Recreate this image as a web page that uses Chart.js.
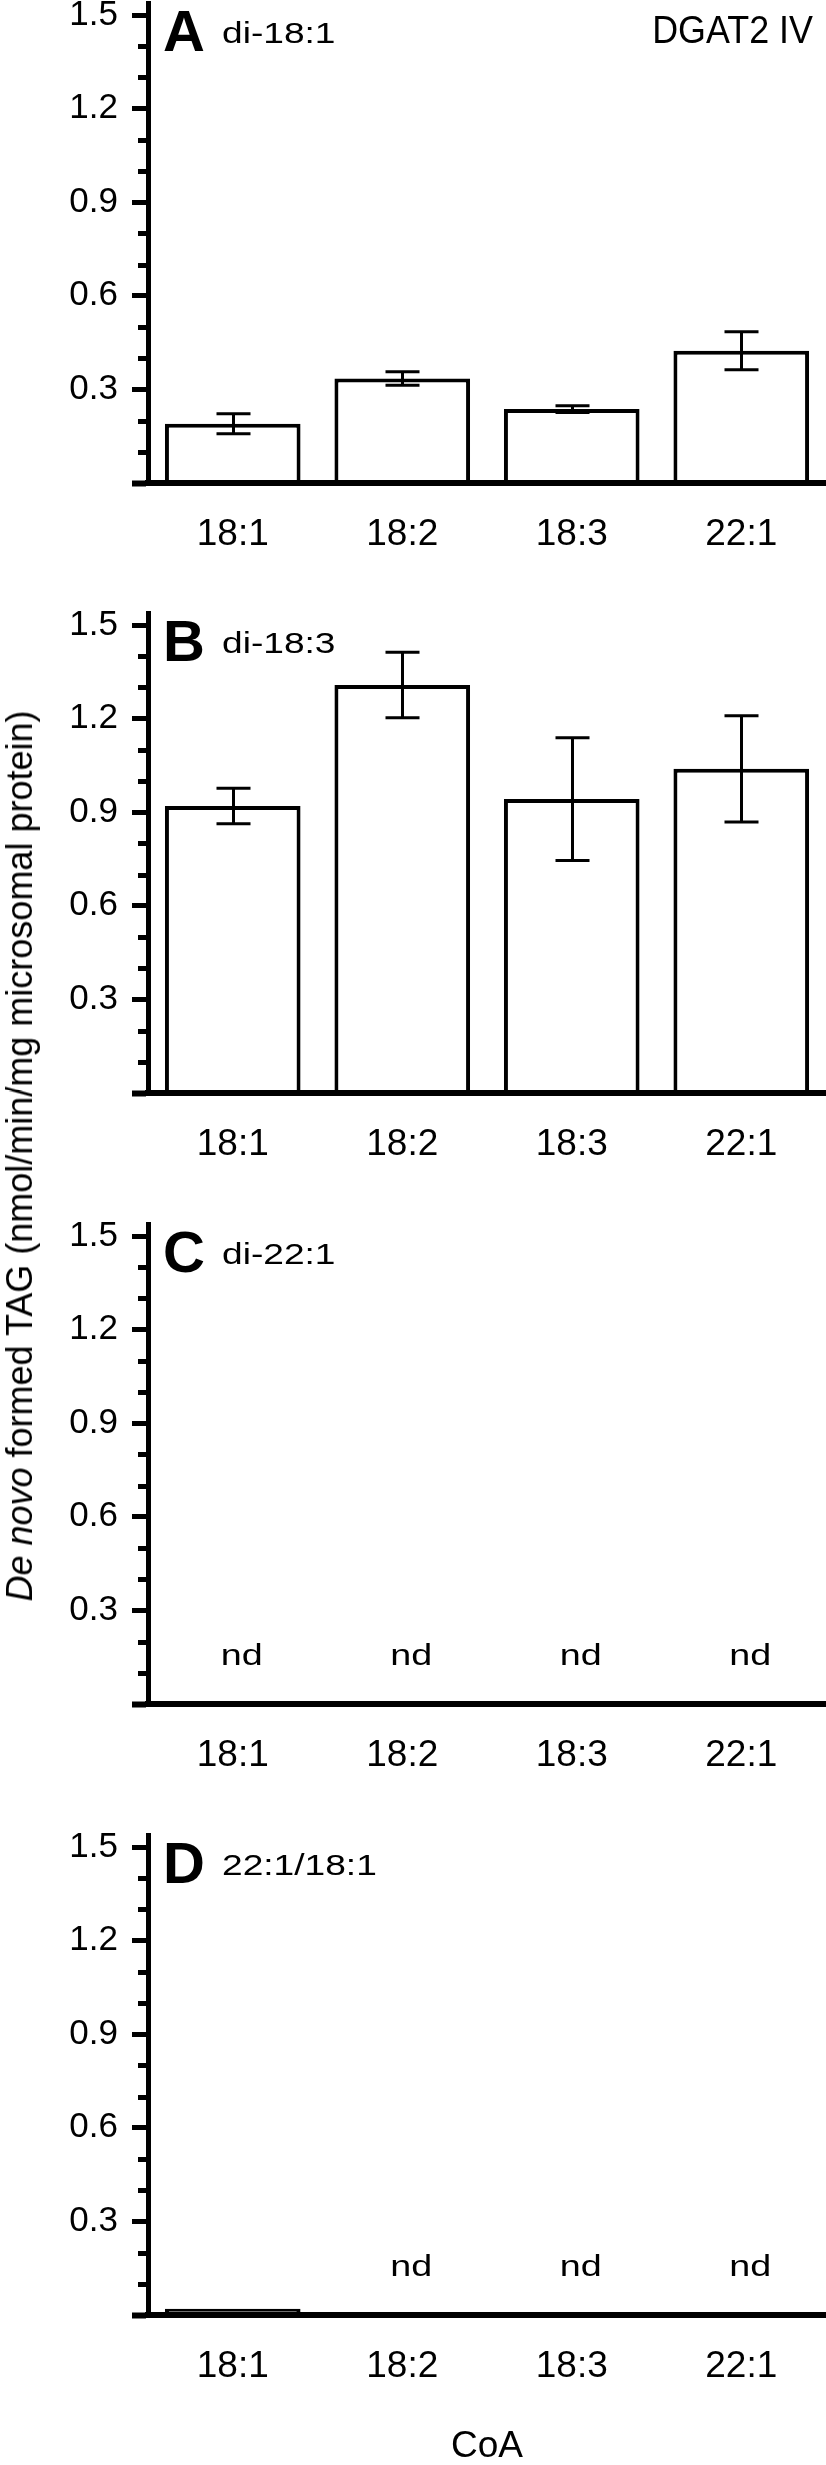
<!DOCTYPE html>
<html>
<head>
<meta charset="utf-8">
<script src="https://cdn.jsdelivr.net/npm/chart.js@4.4.1/dist/chart.umd.min.js"></script>
<style>
  html, body { margin: 0; padding: 0; background: #fff; }
  body { width: 826px; height: 2465px; position: relative; overflow: hidden; }
  canvas { position: absolute; left: 0; }
  #ytitle {
    position: absolute; left: 20px; top: 1156px;
    transform: translate(-50%, -50%) rotate(-90deg);
    white-space: nowrap; font-family: "Liberation Sans", Arial, sans-serif;
    font-size: 36px; line-height: 36px; color: #000;
  }
</style>
</head>
<body>
<canvas id="panelA" width="826" height="610" style="top:1px"></canvas>
<canvas id="panelB" width="826" height="610" style="top:611px"></canvas>
<canvas id="panelC" width="826" height="610" style="top:1222px"></canvas>
<canvas id="panelD" width="826" height="632" style="top:1833px"></canvas>
<div id="ytitle"><i>De novo</i> formed TAG (nmol/min/mg microsomal protein)</div>
<script>
// acyl-CoA added
const categories = ["18:1", "18:2", "18:3", "22:1"];

// A: di-18:1
const diOleoyl = [0.19, 0.335, 0.237, 0.424];
const diOleoylErr = [0.032, 0.022, 0.011, 0.061];
// B: di-18:3
const diLinolenoyl = [0.92, 1.308, 0.942, 1.039];
const diLinolenoylErr = [0.057, 0.105, 0.197, 0.17];
// C: di-22:1 (nothing detected)
const diErucoyl = [null, null, null, null];
const diErucoylNd = [true, true, true, true];
// D: 22:1/18:1
const erucoylOleoyl = [0.02, null, null, null];
const erucoylOleoylNd = [false, true, true, true];

const yTicks = [0, 0.3, 0.6, 0.9, 1.2, 1.5];
const yTickLabels = ["", "0.3", "0.6", "0.9", "1.2", "1.5"];
const yMinorTicks = [0.1, 0.2, 0.4, 0.5, 0.7, 0.8, 1.0, 1.1, 1.3, 1.4];
const yMax = 1.545;
const ndLevel = 0.125;

const FONT = "'Liberation Sans', Arial, sans-serif";
Chart.defaults.font.family = FONT;
Chart.defaults.color = "#000";

const panelExtras = {
  id: "panelExtras",
  afterDraw(chart, args, opts) {
    const ctx = chart.ctx;
    const area = chart.chartArea;
    const xs = chart.scales.x;
    const ys = chart.scales.y;
    const meta = chart.getDatasetMeta(0);
    const values = chart.data.datasets[0].data;
    ctx.save();
    ctx.fillStyle = "#000";
    ctx.strokeStyle = "#000";

    // minor ticks
    ctx.lineWidth = 5;
    ctx.beginPath();
    yMinorTicks.forEach((v) => {
      const py = Math.round(ys.getPixelForValue(v)) + 0.5;
      ctx.moveTo(ys.right - 10, py);
      ctx.lineTo(ys.right, py);
    });
    ctx.stroke();

    // error bars
    ctx.lineWidth = 3;
    (opts.errors || []).forEach((e, i) => {
      const v = values[i];
      if (e == null || v == null) return;
      const cx = Math.round(meta.data[i].x) + 0.5;
      const yt = ys.getPixelForValue(v + e);
      const yb = ys.getPixelForValue(v - e);
      ctx.beginPath();
      ctx.moveTo(cx, yt);
      ctx.lineTo(cx, yb);
      ctx.moveTo(cx - 17, yt);
      ctx.lineTo(cx + 17, yt);
      ctx.moveTo(cx - 17, yb);
      ctx.lineTo(cx + 17, yb);
      ctx.stroke();
    });

    // nd labels
    ctx.font = "29px " + FONT;
    ctx.textAlign = "center";
    ctx.textBaseline = "alphabetic";
    (opts.nd || []).forEach((flag, i) => {
      if (!flag) return;
      ctx.save();
      ctx.translate(xs.getPixelForValue(i) + 9, ys.getPixelForValue(ndLevel));
      ctx.scale(1.3, 1);
      ctx.fillText("nd", 0, 0);
      ctx.restore();
    });

    // panel letter and subtitle
    ctx.textAlign = "left";
    ctx.font = "bold 58px " + FONT;
    ctx.fillText(opts.letter, area.left + 15, area.top + 50);
    ctx.save();
    ctx.translate(area.left + 74, area.top + 42);
    ctx.scale(1.28, 1);
    ctx.font = "29px " + FONT;
    ctx.fillText(opts.subtitle, 0, 0);
    ctx.restore();

    if (opts.note) {
      ctx.save();
      ctx.translate(area.right - 13, area.top + 42);
      ctx.scale(0.92, 1);
      ctx.textAlign = "right";
      ctx.font = "39px " + FONT;
      ctx.fillText(opts.note, 0, 0);
      ctx.restore();
    }
    ctx.restore();
  }
};

function makePanel(id, values, extras, xAxisHeight, showTitle) {
  const ctx = document.getElementById(id).getContext("2d");
  return new Chart(ctx, {
    type: "bar",
    data: {
      labels: categories,
      datasets: [
        {
          data: values,
          backgroundColor: "#fff",
          borderColor: "#000",
          borderWidth: 4,
          borderSkipped: "bottom",
          barPercentage: 0.8,
          categoryPercentage: 1.0,
        },
      ],
    },
    options: {
      responsive: false,
      animation: false,
      layout: { padding: 0 },
      plugins: {
        legend: { display: false },
        tooltip: { enabled: false },
        panelExtras: extras,
      },
      scales: {
        x: {
          grid: { display: false, drawTicks: false },
          border: { display: true, color: "#000", width: 6, z: 1 },
          ticks: { color: "#000", font: { size: 37 }, padding: 30, maxRotation: 0, autoSkip: false },
          title: {
            display: showTitle,
            text: "CoA",
            color: "#000",
            font: { size: 37, lineHeight: 1 },
            padding: { top: 0, bottom: 0 },
          },
          afterFit(scale) {
            scale.height = xAxisHeight;
            scale.paddingLeft = 0;
            scale.paddingRight = 0;
          },
        },
        y: {
          min: 0,
          max: yMax,
          afterBuildTicks(scale) {
            scale.ticks = yTicks.map((v) => ({ value: v }));
          },
          ticks: {
            color: "#000",
            font: { size: 35 },
            padding: 14,
            autoSkip: false,
            callback: (v, i) => yTickLabels[i],
          },
          grid: {
            drawOnChartArea: false,
            drawTicks: true,
            tickLength: 16,
            tickColor: "#000",
            tickWidth: (c) => (c.tick && c.tick.value === 0 ? 6 : 5),
          },
          border: { display: true, color: "#000", width: 5 },
          afterFit(scale) {
            scale.width = 148;
            scale.paddingTop = 0;
            scale.paddingBottom = 0;
          },
        },
      },
    },
    plugins: [panelExtras],
  });
}

makePanel("panelA", diOleoyl, { errors: diOleoylErr, letter: "A", subtitle: "di-18:1", note: "DGAT2 IV" }, 128, false);
makePanel("panelB", diLinolenoyl, { errors: diLinolenoylErr, letter: "B", subtitle: "di-18:3" }, 128, false);
makePanel("panelC", diErucoyl, { nd: diErucoylNd, letter: "C", subtitle: "di-22:1" }, 128, false);
makePanel("panelD", erucoylOleoyl, { nd: erucoylOleoylNd, letter: "D", subtitle: "22:1/18:1" }, 150, true);
</script>
</body>
</html>
